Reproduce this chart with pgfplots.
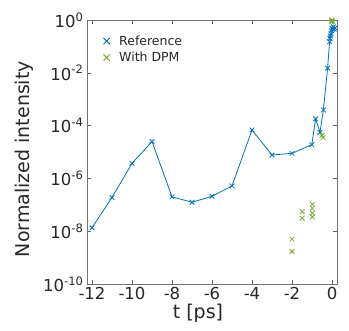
\documentclass[border=0pt]{standalone}
\usepackage{fontspec}
\setmainfont{DejaVu Sans}
\usepackage{pgfplots}
\pgfplotsset{compat=1.18}
\definecolor{mblue}{RGB}{0,114,189}
\definecolor{mgreen}{RGB}{119,172,48}
\begin{document}
\begin{tikzpicture}[x=1pt,y=1pt]
\useasboundingbox (0,0) rectangle (349,331);
\begin{axis}[at={(87pt,47pt)}, anchor=south west, scale only axis,
  width=250pt, height=264pt,
  xmin=-12.25, xmax=0.25, ymode=log, ymin=1e-10, ymax=1,
  xtick={-12,-10,-8,-6,-4,-2,0},
  xticklabels={-12,-10,-8,-6,-4,-2,0},
  ytick={1e-10,1e-8,1e-6,1e-4,1e-2,1},
  yticklabels={10\textsuperscript{-10},10\textsuperscript{-8},10\textsuperscript{-6},10\textsuperscript{-4},10\textsuperscript{-2},10\textsuperscript{0}},
  tick align=inside, major tick length=4pt, minor tick length=2pt,
  axis line style={black!55}, every tick/.style={black!60},
  ticklabel style={font=\fontsize{16.5}{17}\selectfont, text=black!85},
  xlabel={t [ps]}, ylabel={Normalized intensity},
  label style={font=\fontsize{19}{20}\selectfont, text=black!85},
  xlabel style={at={(axis description cs:0.444,-0.11)}, anchor=center},
  ylabel style={at={(axis description cs:-0.25,0.473)}, anchor=center},
  legend style={draw=none, fill=none, at={(axis description cs:0.03,0.955)}, anchor=north west,
    font=\fontsize{12.5}{13}\selectfont, text=black!85, row sep=2.5pt,
    nodes={inner sep=1.5pt}},
  legend cell align=left,
  legend image code/.code={\path[draw=none,fill=none] (0pt,-4pt) rectangle (20pt,4pt); \draw[#1] plot coordinates {(9pt,0pt)};},
]
\addlegendimage{only marks, mark=x, mark size=4.5pt, mblue, line width=1pt}
\addlegendentry{Reference}
\addlegendimage{only marks, mark=x, mark size=4.5pt, mgreen, line width=1pt}
\addlegendentry{With DPM}
\addplot[mblue, line width=0.8pt, mark=x, mark size=3.3pt, forget plot] coordinates {
(-12,1.35e-8) (-11,1.9e-7) (-10,3.7e-6) (-9,2.5e-5) (-8,2e-7) (-7,1.25e-7)
(-6,2.1e-7) (-5,5.2e-7) (-4,6.8e-5) (-3,7.7e-6) (-2,8.9e-6) (-1.01,1.9e-5)
(-0.82,1.8e-4) (-0.6,5.6e-5) (-0.43,3.9e-4) (-0.22,1.5e-2) (-0.12,0.15)
(-0.1,0.2) (-0.08,0.25) (-0.05,0.3) (-0.03,0.4) (0,0.5) (0.03,0.45) (0.07,0.55) (0.1,0.45) (0.15,0.5)
};
\addplot[only marks, mgreen, mark=x, mark size=3.3pt, line width=0.8pt, forget plot] coordinates {
(-2,5e-9) (-2,1.7e-9) (-1.49,5.5e-8) (-1.49,3.1e-8)
(-0.98,1.05e-7) (-0.98,7.4e-8) (-0.98,4.8e-8) (-0.98,3.5e-8)
(-0.5,4.2e-5) (-0.45,3.5e-5)
(-0.03,0.85) (-0.01,0.95) (0,1) (0.02,0.9)
};
\end{axis}
\end{tikzpicture}
\end{document}
